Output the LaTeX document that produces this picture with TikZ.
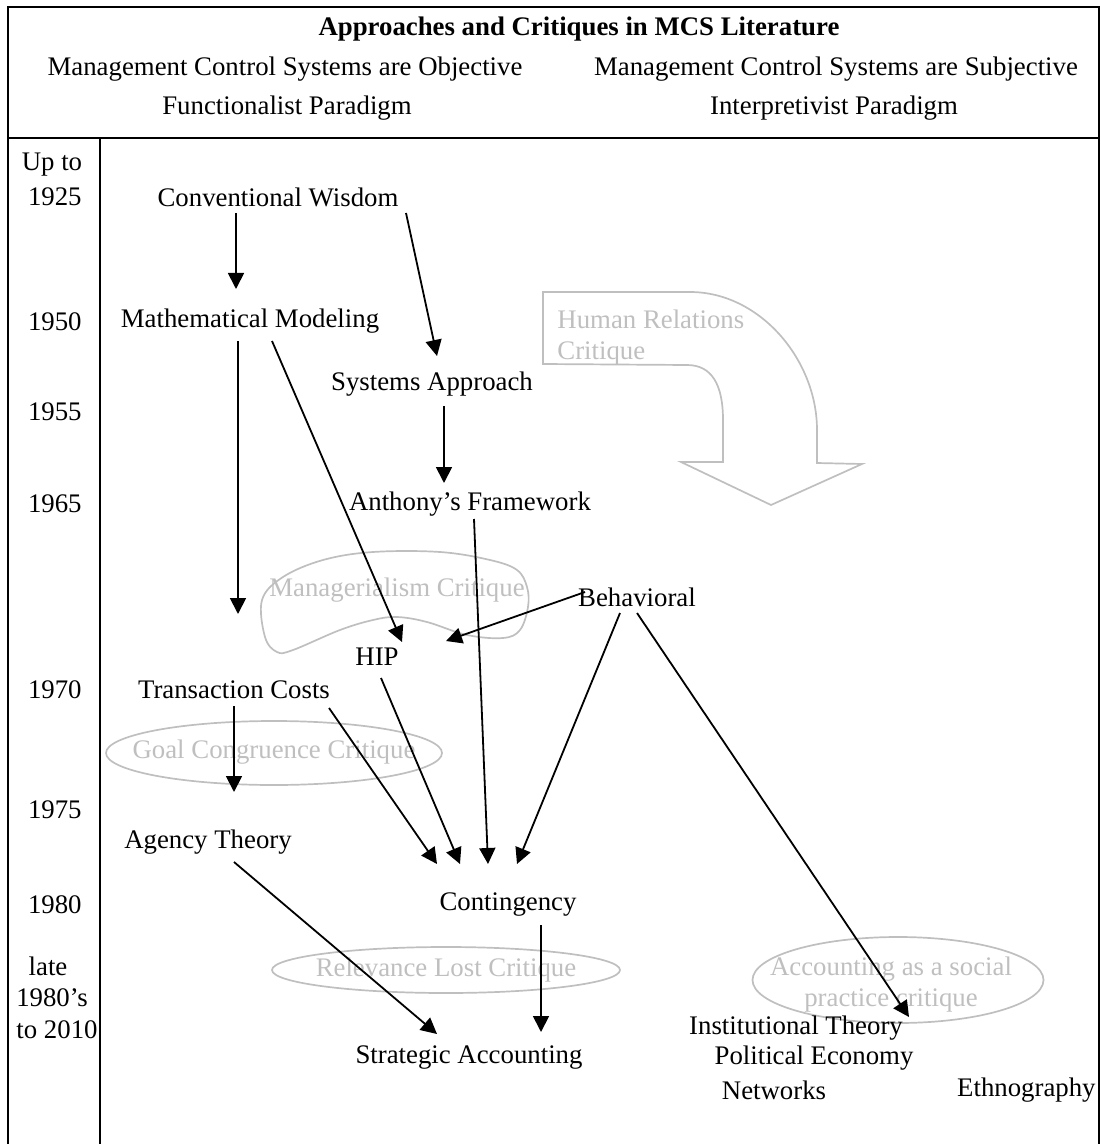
\documentclass[tikz,border=0pt]{standalone}
\usepackage{fontspec}
\setmainfont{Liberation Serif}
\usetikzlibrary{arrows.meta,calc,shapes.geometric}
\definecolor{critgray}{RGB}{191,191,191}
\begin{document}
\begin{tikzpicture}[x=0.5pt,y=-0.5pt,
  txt/.style={inner sep=0pt,font=\fontsize{13.4}{16}\selectfont},
  crit/.style={inner sep=0pt,font=\fontsize{13.4}{15.5}\selectfont,text=critgray},
  critline/.style={draw=critgray,line width=0.85pt},
  arr/.style={line width=0.9pt,-{Triangle[length=8pt,width=8pt]}},
  frame/.style={line width=1pt}]
\useasboundingbox (0,0) rectangle (1101,1144);
% frame
\draw[frame] (8,1144) -- (8,7) -- (1099,7) -- (1099,1144);
\draw[frame] (8,138) -- (1099,138);
\draw[frame] (100,138) -- (100,1144);
% header
\node[txt,font=\fontsize{13.4}{16}\selectfont\bfseries] (title) at (579,29) {Approaches and Critiques in MCS Literature};
\node[txt] (obj) at (285,69) {Management Control Systems are Objective};
\node[txt] (subj) at (836,69) {Management Control Systems are Subjective};
\node[txt] (func) at (287,108) {Functionalist Paradigm};
\node[txt] (interp) at (834,108) {Interpretivist Paradigm};
% years
\node[txt] (yup) at (52,165) {Up to};
\node[txt,anchor=east] (y1925) at (82,197) {1925};
\node[txt,anchor=east] (y1950) at (82,322) {1950};
\node[txt,anchor=east] (y1955) at (82,412) {1955};
\node[txt,anchor=east] (y1965) at (82,504) {1965};
\node[txt,anchor=east] (y1970) at (82,690) {1970};
\node[txt,anchor=east] (y1975) at (82,810) {1975};
\node[txt,anchor=east] (y1980) at (82,905) {1980};
\node[txt] (ylate) at (48,966) {late};
\node[txt] (y1980s) at (52,998) {1980’s};
\node[txt] (y2010) at (57,1030) {to 2010};
% critiques (gray)
\draw[critline] (543,292) -- (690,292) .. controls (760,292) and (817,360) .. (817,430) -- (817,463) -- (862,464) -- (771,505) -- (681,462) -- (723,462) -- (723,420) .. controls (723,385) and (712,365) .. (687,365) -- (543,364) -- cycle;
\node[crit,anchor=west,align=left] (hrc) at (557,338) {Human Relations\\Critique};
\draw[critline] plot[smooth cycle,tension=0.6] coordinates {(373,552) (440,552) (490,560) (517,570) (527,587) (528,607) (520,630) (503,638) (467,635) (427,622) (397,617) (373,620) (340,630) (293,650) (277,652) (265,637) (262,600) (283,577) (323,560)};
\node[crit] (mgc) at (397,590) {Managerialism Critique};
\node[critline,ellipse,minimum width=168pt,minimum height=32pt,inner sep=0pt] (gcell) at (274,753) {};
\node[crit] (gcc) at (274,752) {Goal Congruence Critique};
\node[critline,ellipse,minimum width=174pt,minimum height=23pt,inner sep=0pt] (rlell) at (446,970) {};
\node[crit] (rlc) at (446,970) {Relevance Lost Critique};
\node[critline,ellipse,minimum width=145.5pt,minimum height=43pt,inner sep=0pt] (asell) at (898,980) {};
\node[crit,align=center] (asc) at (891,985) {Accounting as a social\\practice critique};
% approaches
\node[txt] (cw) at (278,197) {Conventional Wisdom};
\node[txt] (mm) at (250,321) {Mathematical Modeling};
\node[txt] (sa) at (432,384) {Systems Approach};
\node[txt] (af) at (470,504) {Anthony’s Framework};
\node[txt] (beh) at (637,597) {Behavioral};
\node[txt] (hip) at (377,657) {HIP};
\node[txt] (tc) at (234,690) {Transaction Costs};
\node[txt] (at) at (208,842) {Agency Theory};
\node[txt] (cont) at (508,905) {Contingency};
\node[txt] (sacc) at (469,1058) {Strategic Accounting};
\node[txt] (inst) at (796,1028) {Institutional Theory};
\node[txt] (pol) at (814,1058) {Political Economy};
\node[txt] (net) at (774,1090) {Networks};
\node[txt,anchor=east] (eth) at (1096,1090) {Ethnography};
% arrow end points
\coordinate (cw-a) at (236,213);
\coordinate (mm-in) at (236,289);
\coordinate (cw-b) at (406,213);
\coordinate (sa-in) at (437,356);
\coordinate (mm-a) at (238,341);
\coordinate (tc-in) at (238,614);
\coordinate (mm-b) at (272,341);
\coordinate (hip-in1) at (402,642);
\coordinate (sa-a) at (444,406);
\coordinate (af-in) at (444,483);
\coordinate (af-a) at (474,519);
\coordinate (cont-in3) at (488,864);
\coordinate (beh-a) at (585,592);
\coordinate (hip-in2) at (446,641);
\coordinate (beh-b) at (620,613);
\coordinate (cont-in4) at (517,864);
\coordinate (beh-c) at (637,613);
\coordinate (inst-in) at (909,1017);
\coordinate (hip-a) at (381,678);
\coordinate (cont-in2) at (460,864);
\coordinate (tc-a) at (329,708);
\coordinate (cont-in1) at (437,864);
\coordinate (tc-b) at (234,706);
\coordinate (at-in) at (234,792);
\coordinate (at-a) at (234,862);
\coordinate (sacc-in1) at (437,1034);
\coordinate (cont-a) at (541,925);
\coordinate (sacc-in2) at (541,1032);
% arrows
\draw[arr] (cw-a) -- (mm-in);
\draw[arr] (cw-b) -- (sa-in);
\draw[arr] (mm-a) -- (tc-in);
\draw[arr] (mm-b) -- (hip-in1);
\draw[arr] (sa-a) -- (af-in);
\draw[arr] (af-a) -- (cont-in3);
\draw[arr] (beh-a) -- (hip-in2);
\draw[arr] (beh-b) -- (cont-in4);
\draw[arr] (beh-c) -- (inst-in);
\draw[arr] (hip-a) -- (cont-in2);
\draw[arr] (tc-a) -- (cont-in1);
\draw[arr] (tc-b) -- (at-in);
\draw[arr] (at-a) -- (sacc-in1);
\draw[arr] (cont-a) -- (sacc-in2);
\end{tikzpicture}
\end{document}
